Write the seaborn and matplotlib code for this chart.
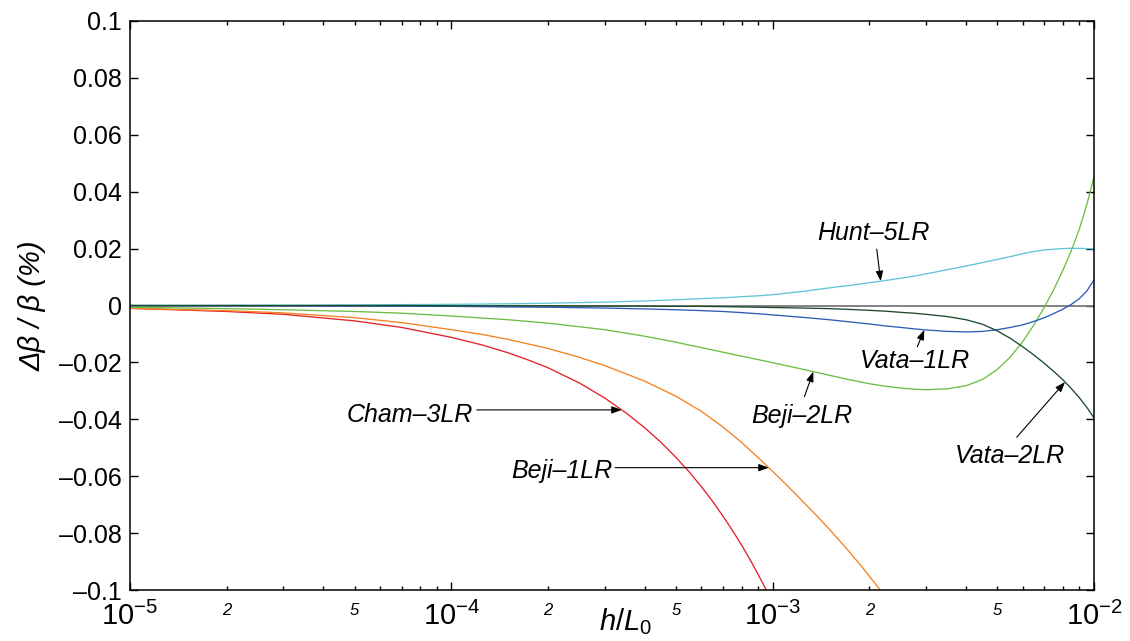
import numpy as np
import pandas as pd
import matplotlib
matplotlib.use("Agg")
import matplotlib.pyplot as plt
import seaborn as sns

# ---- data: relative error of the dispersion approximations vs. h/L0 ----
x_grid = [1e-5, 2e-5, 3e-5, 5e-5, 7e-5, 1e-4, 1.5e-4, 2e-4, 3e-4, 4e-4, 5e-4,
          6e-4, 7e-4, 8e-4, 9e-4, 1e-3, 1.25e-3, 1.5e-3, 1.75e-3, 2e-3,
          2.25e-3, 2.5e-3, 2.75e-3, 3e-3, 3.5e-3, 4e-3, 4.5e-3, 5e-3, 5.5e-3,
          6e-3, 6.5e-3, 7e-3, 7.5e-3, 8e-3, 8.5e-3, 9e-3, 9.5e-3, 1e-2]

hunt_5lr = [0.0000, 0.0001, 0.0001, 0.0002, 0.0003, 0.0004, 0.0006, 0.0008,
            0.0012, 0.0016, 0.0020, 0.0024, 0.0027, 0.0031, 0.0034, 0.0038,
            0.0050, 0.0062, 0.0071, 0.0080, 0.0088, 0.0096, 0.0103, 0.0111,
            0.0126, 0.0139, 0.0151, 0.0162, 0.0172, 0.0182, 0.0190, 0.0195,
            0.0198, 0.0200, 0.0201, 0.0201, 0.0200, 0.0199]

vata_1lr = [0.0000, -0.0001, -0.0001, -0.0002, -0.0002, -0.0003, -0.0005,
            -0.0006, -0.0009, -0.0012, -0.0015, -0.0018, -0.0021, -0.0025,
            -0.0029, -0.0033, -0.0042, -0.0050, -0.0058, -0.0065, -0.0072,
            -0.0077, -0.0082, -0.0086, -0.0091, -0.0093, -0.0091, -0.0085,
            -0.0077, -0.0068, -0.0056, -0.0043, -0.0028, -0.0013, 0.0004,
            0.0024, 0.0051, 0.0090]

vata_2lr = [0.0000, 0.0000, 0.0000, 0.0000, 0.0000, -0.0001, -0.0001, -0.0001,
            -0.0002, -0.0002, -0.0003, -0.0003, -0.0004, -0.0005, -0.0006,
            -0.0007, -0.0009, -0.0011, -0.0014, -0.0017, -0.0020, -0.0024,
            -0.0027, -0.0031, -0.0039, -0.0050, -0.0066, -0.0089, -0.0116,
            -0.0145, -0.0174, -0.0203, -0.0232, -0.0261, -0.0292, -0.0324,
            -0.0358, -0.0395]

beji_2lr = [-0.0006, -0.0011, -0.0015, -0.0021, -0.0027, -0.0037, -0.0050,
            -0.0062, -0.0085, -0.0108, -0.0129, -0.0148, -0.0164, -0.0178,
            -0.0190, -0.0201, -0.0225, -0.0245, -0.0262, -0.0275, -0.0284,
            -0.0290, -0.0294, -0.0296, -0.0293, -0.0282, -0.0260, -0.0225,
            -0.0180, -0.0127, -0.0068, -0.0007, 0.0057, 0.0123, 0.0193,
            0.0268, 0.0355, 0.0452]

cham_x = [1e-5, 2e-5, 3e-5, 5e-5, 7e-5, 1e-4, 1.25e-4, 1.5e-4, 1.75e-4, 2e-4,
          2.5e-4, 3e-4, 3.5e-4, 4e-4, 4.5e-4, 5e-4, 5.5e-4, 6e-4, 6.5e-4,
          7e-4, 7.5e-4, 8e-4, 8.5e-4, 9e-4, 9.5e-4, 1e-3]
cham_3lr = [-0.0010, -0.0021, -0.0031, -0.0054, -0.0077, -0.0112, -0.0139,
            -0.0166, -0.0193, -0.0219, -0.0272, -0.0325, -0.0378, -0.0430,
            -0.0482, -0.0534, -0.0585, -0.0637, -0.0688, -0.0740, -0.0791,
            -0.0842, -0.0893, -0.0944, -0.0995, -0.1045]

beji1_x = [1e-5, 2e-5, 3e-5, 5e-5, 7e-5, 1e-4, 1.25e-4, 1.5e-4, 2e-4, 2.5e-4,
           3e-4, 4e-4, 5e-4, 6e-4, 7e-4, 8e-4, 9e-4, 1e-3, 1.1e-3, 1.2e-3,
           1.35e-3, 1.5e-3, 1.7e-3, 1.9e-3, 2.1e-3, 2.3e-3]
beji_1lr = [-0.0010, -0.0018, -0.0026, -0.0043, -0.0060, -0.0085, -0.0102,
            -0.0119, -0.0151, -0.0182, -0.0211, -0.0266, -0.0319, -0.0372,
            -0.0427, -0.0481, -0.0534, -0.0583, -0.0629, -0.0672, -0.0731,
            -0.0786, -0.0855, -0.0920, -0.0982, -0.1041]

model_names = ["Cham–3LR", "Beji–1LR", "Beji–2LR", "Hunt–5LR", "Vata–1LR", "Vata–2LR"]
model_colors = ["#e4202a", "#f5821f", "#6cbe45", "#5fc6d6", "#2e5cb8", "#1c4a2b"]

y_ticks = [-0.1, -0.08, -0.06, -0.04, -0.02, 0.0, 0.02, 0.04, 0.06, 0.08, 0.1]
y_tick_labels = ["–0.1", "–0.08", "–0.06", "–0.04", "–0.02", "0",
                 "0.02", "0.04", "0.06", "0.08", "0.1"]
x_major = [1e-5, 1e-4, 1e-3, 1e-2]
x_major_labels = [r"$10^{-5}$", r"$10^{-4}$", r"$10^{-3}$", r"$10^{-2}$"]
x_minor_subs = [2, 3, 4, 5, 6, 7, 8, 9]
x_minor_sub_labels = ["2", "", "", "5", "", "", "", ""]

# ---- style ----
sns.set_theme(style="ticks")
plt.rcParams["font.family"] = ["Liberation Sans", "DejaVu Sans"]
plt.rcParams["mathtext.fontset"] = "custom"
plt.rcParams["mathtext.rm"] = "Liberation Sans"
plt.rcParams["mathtext.it"] = "Liberation Sans:italic"
plt.rcParams["axes.linewidth"] = 1.1
for key in ["text.color", "axes.labelcolor", "xtick.color", "ytick.color",
            "xtick.labelcolor", "ytick.labelcolor", "axes.edgecolor"]:
    plt.rcParams[key] = "black"

fig = plt.figure(figsize=(11.3, 6.41), dpi=100)
ax = fig.add_axes([130 / 1130, 1 - 590 / 641, (1094 - 130) / 1130, (590 - 21) / 641])
ax.set_xscale("log")

frames = [
    pd.DataFrame({"h_L0": cham_x, "dbeta": cham_3lr, "model": model_names[0]}),
    pd.DataFrame({"h_L0": beji1_x, "dbeta": beji_1lr, "model": model_names[1]}),
    pd.DataFrame({"h_L0": x_grid, "dbeta": beji_2lr, "model": model_names[2]}),
    pd.DataFrame({"h_L0": x_grid, "dbeta": hunt_5lr, "model": model_names[3]}),
    pd.DataFrame({"h_L0": x_grid, "dbeta": vata_1lr, "model": model_names[4]}),
    pd.DataFrame({"h_L0": x_grid, "dbeta": vata_2lr, "model": model_names[5]}),
]
df = pd.concat(frames, ignore_index=True)

ax.axhline(0.0, color="#7a7a7a", lw=1.3, zorder=1.5)
sns.lineplot(data=df, x="h_L0", y="dbeta", hue="model", hue_order=model_names,
             palette=dict(zip(model_names, model_colors)), estimator=None,
             sort=True, legend=False, linewidth=0.95, ax=ax, zorder=2)

ax.set_xlim(1e-5, 1e-2)
ax.set_ylim(-0.1, 0.1)

# ticks
ax.set_yticks(y_ticks)
ax.set_yticklabels(y_tick_labels, fontsize=18)
ax.set_xticks(x_major)
ax.set_xticklabels(x_major_labels, fontsize=21)
minor_pos = [d * s for d in x_major[:-1] for s in x_minor_subs]
minor_lab = [lab for d in x_major[:-1] for lab in x_minor_sub_labels]
ax.set_xticks(minor_pos, minor=True)
ax.set_xticklabels(minor_lab, minor=True, fontstyle="italic")
ax.tick_params(which="both", direction="in", top=True, right=True,
               color="black", width=1.0)
ax.tick_params(which="major", length=6)
ax.tick_params(which="minor", length=3)
ax.tick_params(axis="y", which="major", pad=6)
ax.tick_params(axis="x", which="major", pad=8.5)
ax.tick_params(axis="x", which="minor", pad=9.5, labelsize=12)
for sp in ax.spines.values():
    sp.set_color("black")

# axis labels
ax.set_xlabel(r"$\mathit{h/L_0}$", fontsize=21)
ax.xaxis.set_label_coords(0.5135, -0.029)
ax.set_ylabel("Δβ / β (%)", fontsize=21, fontstyle="italic")
ax.yaxis.set_label_coords(-0.087, 0.5)

# ---- annotations ----
lab_font = dict(fontsize=18, fontstyle="italic", color="black")
arrow_kw = dict(arrowstyle="-|>,head_length=0.6,head_width=0.22", color="black",
                lw=0.8, shrinkA=0, shrinkB=0, mutation_scale=10)


def on_curve(xs, ys, xq):
    return float(np.interp(np.log10(xq), np.log10(xs), ys))


def at_level(xs, ys, level):
    lx = np.interp(level, np.asarray(ys)[::-1], np.log10(xs)[::-1])
    return float(10 ** lx)


# Hunt-5LR
ax.text(2.052e-3, 0.0230, "Hunt–5LR", ha="center", va="baseline", **lab_font)
ax.annotate("", xy=(2.169e-3, on_curve(x_grid, hunt_5lr, 2.169e-3)),
            xytext=(2.108e-3, 0.0198), arrowprops=arrow_kw)
# Vata-1LR
ax.text(2.773e-3, -0.0220, "Vata–1LR", ha="center", va="baseline", **lab_font)
ax.annotate("", xy=(2.964e-3, on_curve(x_grid, vata_1lr, 2.964e-3)),
            xytext=(2.819e-3, -0.0145), arrowprops=arrow_kw)
# Beji-2LR
ax.text(1.234e-3, -0.0413, "Beji–2LR", ha="center", va="baseline", **lab_font)
ax.annotate("", xy=(1.338e-3, on_curve(x_grid, beji_2lr, 1.338e-3)),
            xytext=(1.255e-3, -0.0321), arrowprops=arrow_kw)
# Vata-2LR
ax.text(5.46e-3, -0.0555, "Vata–2LR", ha="center", va="baseline", **lab_font)
ax.annotate("", xy=(8.125e-3, on_curve(x_grid, vata_2lr, 8.125e-3)),
            xytext=(5.747e-3, -0.0463), arrowprops=arrow_kw)
# Cham-3LR
cham_level = -0.0367
ax.text(7.44e-5, -0.0408, "Cham–3LR", ha="center", va="baseline", **lab_font)
ax.annotate("", xy=(at_level(cham_x, cham_3lr, cham_level), cham_level),
            xytext=(1.2e-4, cham_level), arrowprops=arrow_kw)
# Beji-1LR
beji1_level = -0.0570
ax.text(2.21e-4, -0.0605, "Beji–1LR", ha="center", va="baseline", **lab_font)
ax.annotate("", xy=(at_level(beji1_x, beji_1lr, beji1_level), beji1_level),
            xytext=(3.232e-4, beji1_level), arrowprops=arrow_kw)

fig.savefig("out.png", dpi=100)
